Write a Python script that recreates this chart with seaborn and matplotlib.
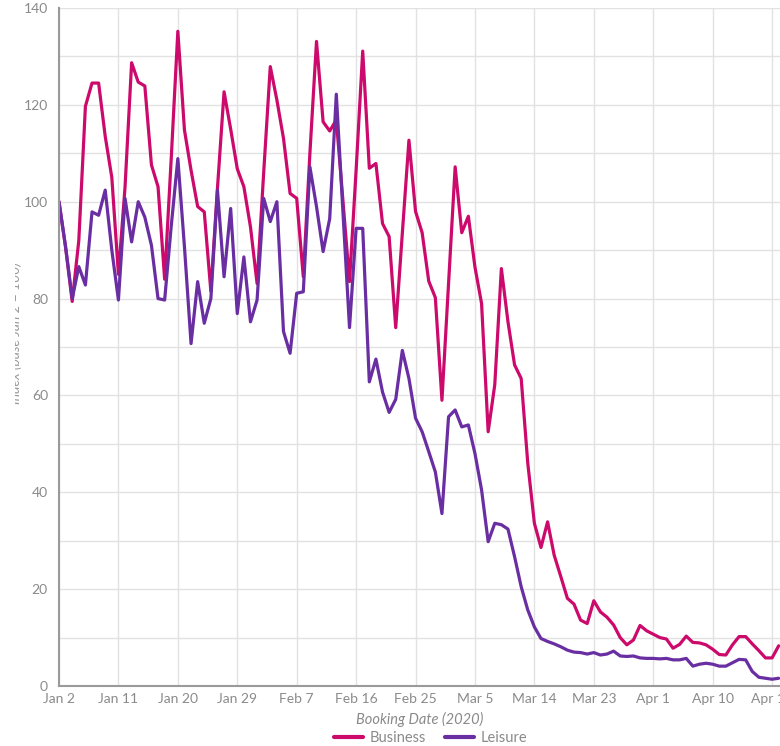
# Business vs leisure booking index, Jan-Apr 2020
import pandas as pd
import numpy as np
import matplotlib.pyplot as plt
from matplotlib.patches import Rectangle
import seaborn as sns

# daily index values (base Jan 2 = 100)
business = [100, 90.5, 79.4, 92, 119.7, 124.5, 124.5, 113.5, 105, 85,
            103, 128.7, 124.7, 123.9, 107.6, 103.1, 84, 109, 135.2, 114.8,
            106.5, 99, 97.9, 81.5, 102.8, 122.7, 115, 106.8, 103.1, 94.8,
            83.1, 106, 127.9, 121, 113.1, 101.7, 100.7, 84.5, 110, 133.1,
            116.5, 114.6, 116.9, 100.3, 83.5, 106.5, 131.1, 106.9, 107.9, 95.5,
            92.8, 74, 93.5, 112.7, 98, 93.6, 83.6, 80.2, 59, 83.1,
            107.2, 93.6, 97, 86.5, 79, 52.5, 62.2, 86.2, 75.2, 66.3,
            63.5, 46, 33.6, 28.6, 33.9, 27, 22.6, 18.1, 16.9, 13.6,
            12.9, 17.6, 15.3, 14.2, 12.6, 10, 8.5, 9.5, 12.5, 11.4,
            10.7, 10, 9.7, 7.8, 8.6, 10.3, 9, 8.9, 8.5, 7.6,
            6.5, 6.4, 8.5, 10.2, 10.2, 8.7, 7.3, 5.8, 5.8, 8.3]

leisure = [100, 90.7, 80, 86.6, 82.8, 97.9, 97.2, 102.4, 90, 79.7,
           100.7, 91.7, 100, 96.8, 91, 80, 79.7, 95, 108.9, 90.7,
           70.7, 83.5, 74.9, 80, 102.4, 84.5, 98.6, 76.9, 88.6, 75.2,
           79.7, 100.7, 95.9, 100, 73.2, 68.7, 81.1, 81.4, 107.2, 99,
           89.7, 96.5, 122.2, 98, 74, 94.5, 94.5, 62.8, 67.5, 60.7,
           56.5, 59.2, 69.3, 63.5, 55.3, 52.5, 48.4, 44.2, 35.6, 55.6,
           57, 53.5, 53.9, 48, 40.5, 29.8, 33.6, 33.3, 32.4, 26.7,
           20.5, 15.7, 12.2, 9.8, 9.2, 8.7, 8.1, 7.4, 7, 6.9,
           6.6, 6.9, 6.4, 6.6, 7.2, 6.2, 6.1, 6.2, 5.8, 5.7,
           5.7, 5.6, 5.7, 5.4, 5.4, 5.7, 4.1, 4.5, 4.7, 4.5,
           4.1, 4.1, 4.8, 5.5, 5.4, 3, 1.8, 1.6, 1.4, 1.6]

dates = pd.date_range("2020-01-02", periods=len(business), freq="D")
tick_dates = pd.date_range("2020-01-02", periods=13, freq="9D")

df = pd.DataFrame({"date": dates, "Business": business, "Leisure": leisure})
long_df = df.melt(id_vars="date", var_name="segment", value_name="index")

sns.set_style("white")
plt.rcParams["font.family"] = ["Lato", "DejaVu Sans"]

fig = plt.figure(figsize=(7.8, 7.46), dpi=100)
ax = fig.add_axes([59 / 780, 60 / 746, 721 / 780, 678 / 746])

palette = {"Business": "#cc0a6c", "Leisure": "#6a2ea3"}
sns.lineplot(data=long_df, x="date", y="index", hue="segment",
             palette=palette, linewidth=2.3, ax=ax, legend=True)

ax.set_xlim(dates[0], dates[0] + pd.Timedelta(days=109.2))
ax.set_ylim(0, 140)
ax.set_yticks(np.arange(0, 141, 20))
ax.set_yticks(np.arange(0, 141, 10), minor=True)
ax.set_xticks(tick_dates)
ax.set_xticklabels([f"{d:%b} {d.day}" for d in tick_dates])

ax.grid(True, which="both", color="#e2e2e2", linewidth=1)
ax.set_axisbelow(True)
ax.tick_params(axis="both", which="both", length=0, labelsize=10,
               labelcolor="#8a8a8a")
ax.tick_params(axis="y", pad=8)
ax.tick_params(axis="x", pad=5)

for side in ["top", "right"]:
    ax.spines[side].set_visible(False)
for side in ["left", "bottom"]:
    ax.spines[side].set_color("#9a9a9a")
    ax.spines[side].set_linewidth(1.5)

ax.set_xlabel("Booking Date (2020)", fontsize=10.5, color="#8a8a8a",
              style="italic", labelpad=5)
ax.set_ylabel("Index (base Jan 2 = 100)", fontsize=10, color="#9a9a9a",
              style="italic")
ax.yaxis.set_label_coords(-0.0515, 0.52)

handles, labels = ax.get_legend_handles_labels()
ax.legend_.remove()
fig.legend(handles, labels, loc="lower center", bbox_to_anchor=(0.552, -0.016),
           ncol=2, frameon=False, fontsize=10.5, handlelength=2.0,
           handletextpad=0.45, columnspacing=1.3, labelcolor="#8a8a8a")
for line in fig.legends[0].get_lines():
    line.set_linewidth(3)

# the left edge of the label is clipped in the original
fig.patches.append(Rectangle((0, 0), 15 / 780, 1, transform=fig.transFigure,
                             facecolor="white", edgecolor="none", zorder=10))

fig.savefig("out.png", dpi=100)
